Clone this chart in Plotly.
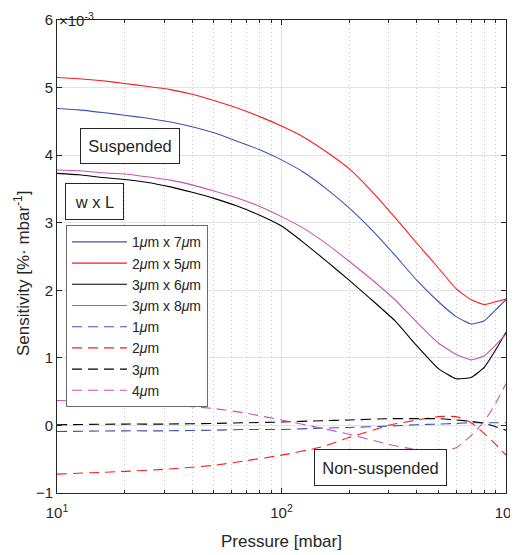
import plotly.graph_objects as go

# ---------------- data (sensitivity in units of 1e-3 %/mbar) ----------------
pressure_solid = [10, 12.5, 16, 20, 25, 32, 40, 50, 63, 80, 100, 125, 160, 200, 250, 320,
                  400, 500, 600, 700, 800, 900, 1000]
s_1x7 = [4.69, 4.67, 4.63, 4.59, 4.55, 4.49, 4.42, 4.33, 4.21, 4.08, 3.93, 3.75, 3.49, 3.22,
         2.91, 2.52, 2.15, 1.83, 1.61, 1.50, 1.55, 1.71, 1.86]
s_2x5 = [5.15, 5.13, 5.10, 5.06, 5.02, 4.97, 4.90, 4.81, 4.70, 4.57, 4.43, 4.27, 4.04, 3.80,
         3.48, 3.08, 2.70, 2.33, 2.02, 1.86, 1.79, 1.83, 1.87]
s_3x6 = [3.73, 3.71, 3.67, 3.64, 3.60, 3.53, 3.45, 3.36, 3.25, 3.11, 2.95, 2.71, 2.42, 2.15,
         1.87, 1.55, 1.18, 0.84, 0.69, 0.71, 0.86, 1.12, 1.38]
s_3x8 = [3.78, 3.77, 3.74, 3.72, 3.68, 3.63, 3.56, 3.47, 3.37, 3.24, 3.09, 2.92, 2.68, 2.43,
         2.17, 1.86, 1.53, 1.22, 1.05, 0.97, 1.03, 1.19, 1.35]

pressure_dashed = [10, 20, 30, 50, 70, 100, 150, 200, 300, 400, 500, 600, 700, 800, 900, 1000]
n_1 = [-0.09, -0.08, -0.08, -0.07, -0.06, -0.06, -0.04, -0.03, -0.01, 0.01, 0.02, 0.03, 0.04, 0.04, 0.04, 0.04]
n_2 = [-0.72, -0.68, -0.65, -0.59, -0.52, -0.44, -0.32, -0.18, 0.00, 0.08, 0.13, 0.13, 0.04, -0.12, -0.28, -0.44]
n_3 = [0.01, 0.02, 0.02, 0.03, 0.04, 0.05, 0.07, 0.08, 0.10, 0.10, 0.10, 0.08, 0.06, 0.03, -0.02, -0.07]
n_4 = [0.37, 0.34, 0.31, 0.25, 0.18, 0.08, -0.04, -0.13, -0.28, -0.36, -0.38, -0.33, -0.15, 0.06, 0.33, 0.62]

solid_names = ["1<i>μ</i>m x 7<i>μ</i>m", "2<i>μ</i>m x 5<i>μ</i>m",
               "3<i>μ</i>m x 6<i>μ</i>m", "3<i>μ</i>m x 8<i>μ</i>m"]
dashed_names = ["1<i>μ</i>m", "2<i>μ</i>m", "3<i>μ</i>m", "4<i>μ</i>m"]
colors = ["#3a52b0", "#ff1a1a", "#000000", "#c652b8"]

x_tickvals = [10, 100, 1000]
x_ticktext = ["10<sup>1</sup>", "10<sup>2</sup>", "10<sup>3</sup>"]
x_minor = [20, 30, 40, 50, 60, 70, 80, 90, 200, 300, 400, 500, 600, 700, 800, 900]
y_tickvals = [-1, 0, 1, 2, 3, 4, 5, 6]

FONT = "Liberation Sans, Arial, sans-serif"
AX = "#262626"

fig = go.Figure()
for name, ys, c in zip(solid_names, [s_1x7, s_2x5, s_3x6, s_3x8], colors):
    fig.add_trace(go.Scatter(x=pressure_solid, y=ys, mode="lines", name=name,
                             line=dict(color=c, width=1.1, shape="spline", smoothing=0.4)))
for name, ys, c in zip(dashed_names, [n_1, n_2, n_3, n_4], colors):
    fig.add_trace(go.Scatter(x=pressure_dashed, y=ys, mode="lines", name=name,
                             line=dict(color=c, width=1.1, dash="10px,6px",
                                       shape="spline", smoothing=0.5)))

# page body has an 8px margin, so the figure is drawn 8px in from the window edge
fig.update_layout(
    width=510, height=547,
    margin=dict(l=49, r=12, t=12, b=62),
    paper_bgcolor="white", plot_bgcolor="white",
    font=dict(family=FONT, size=14, color=AX),
    showlegend=True,
    legend=dict(x=0.02, y=0.566, xanchor="left", yanchor="top",
                bgcolor="white", bordercolor="#6a6a6a", borderwidth=1,
                font=dict(size=14, color=AX), itemwidth=55,
                tracegroupgap=0),
    xaxis=dict(type="log", range=[1, 3], tickvals=x_tickvals, ticktext=x_ticktext,
               automargin=False, ticklabelstandoff=6,
               ticks="inside", ticklen=5, tickcolor=AX, showline=True, linecolor=AX,
               linewidth=1, mirror="ticks", showgrid=True, gridcolor="#e3e3e3",
               gridwidth=1, zeroline=False,
               tickfont=dict(size=15, color=AX),
               minor=dict(tickvals=x_minor, ticks="inside", ticklen=3, tickcolor=AX,
                          showgrid=True, gridcolor="#c8c8c8", griddash="1px,3px", gridwidth=1)),
    yaxis=dict(range=[-1, 6], tickvals=y_tickvals, ticks="inside", ticklen=5,
               automargin=False,
               tickcolor=AX, showline=True, linecolor=AX, linewidth=1, mirror="ticks",
               showgrid=True, gridcolor="#e3e3e3", gridwidth=1, zeroline=False,
               tickfont=dict(size=15, color=AX)),
    annotations=[
        dict(text="Pressure [mbar]", xref="paper", yref="paper", x=0.5, y=-0.1015,
             xanchor="center", yanchor="middle", showarrow=False,
             font=dict(size=17, color=AX)),
        dict(text="Sensitivity [%· mbar<sup>-1</sup>]", xref="paper", yref="paper",
             x=-0.079, y=0.464, xanchor="center", yanchor="middle", showarrow=False,
             textangle=-90, font=dict(size=17, color=AX)),
        dict(text="×10<sup>-3</sup>", xref="paper", yref="paper", x=0.0, y=1.0,
             xanchor="left", yanchor="top", showarrow=False,
             font=dict(size=15, color=AX), yshift=12),
        dict(text="Suspended", xref="paper", yref="paper", x=0.1626, y=0.7326,
             xanchor="center", yanchor="middle", showarrow=False,
             font=dict(size=16.5, color=AX), bordercolor="#262626", borderwidth=1,
             borderpad=1, bgcolor="white", width=96, height=32),
        dict(text="w x L", xref="paper", yref="paper", x=0.0846, y=0.617,
             xanchor="center", yanchor="middle", showarrow=False,
             font=dict(size=16.5, color=AX), bordercolor="#262626", borderwidth=1,
             borderpad=1, bgcolor="white", width=55, height=33),
        dict(text="Non-suspended", xref="paper", yref="paper", x=0.7216, y=0.0529,
             xanchor="center", yanchor="middle", showarrow=False,
             font=dict(size=16.5, color=AX), bordercolor="#262626", borderwidth=1,
             borderpad=1, bgcolor="white", width=129, height=33),
    ],
)

fig.write_html("out.html")
